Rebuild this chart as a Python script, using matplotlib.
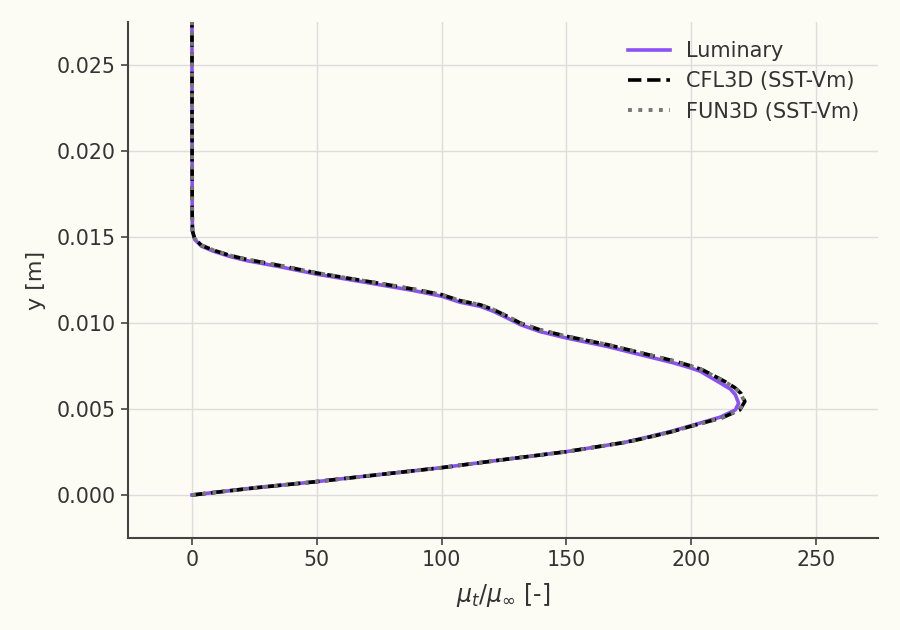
import numpy as np
import matplotlib
matplotlib.use("Agg")
from matplotlib import pyplot as plt

# Eddy viscosity ratio profile.
# y [m] and mu_t/mu_inf for each solver.
y_lum = [0.0, 0.00043, 0.00078, 0.00117, 0.00159, 0.00208, 0.00252, 0.00305,
         0.00328, 0.00369, 0.00402, 0.00453, 0.00495, 0.00534, 0.00583, 0.00616,
         0.00651, 0.00719, 0.00738, 0.00768, 0.00816, 0.00864, 0.00913, 0.00950,
         0.00991, 0.01030, 0.01068, 0.01097, 0.01121, 0.01156, 0.01189, 0.01222,
         0.01255, 0.01284, 0.01327, 0.01363, 0.01387, 0.01418, 0.01447, 0.01486,
         0.01534, 0.01632, 0.0200, 0.0280]
mu_lum = [0.0, 26.0, 50.0, 74.0, 100.0, 126.0, 150.0, 173.0,
          180.0, 191.7, 199.7, 211.7, 217.7, 219.0, 217.7, 215.7,
          211.7, 203.7, 200.0, 193.0, 179.6, 166.3, 150.0, 139.5,
          131.5, 126.2, 120.8, 115.5, 107.4, 100.0, 88.7, 75.4,
          62.0, 50.0, 35.3, 21.9, 15.2, 8.5, 3.8, 1.1,
          0.2, 0.1, 0.05, 0.0]

y_cfl = [0.0, 0.00043, 0.00078, 0.00117, 0.00159, 0.00208, 0.00252, 0.00305,
         0.00326, 0.00366, 0.00399, 0.00450, 0.00495, 0.00544, 0.00590, 0.00624,
         0.00660, 0.00728, 0.00748, 0.00778, 0.00826, 0.00874, 0.00923, 0.00960,
         0.01000, 0.01040, 0.01078, 0.01106, 0.01130, 0.01165, 0.01197, 0.01230,
         0.01262, 0.01291, 0.01334, 0.01370, 0.01393, 0.01424, 0.01452, 0.01490,
         0.01536, 0.01632, 0.0200, 0.0280]
mu_cfl = [0.0, 26.0, 50.0, 74.0, 100.0, 126.0, 150.0, 173.0,
          180.0, 191.7, 199.7, 212.5, 219.5, 221.5, 220.0, 217.5,
          213.5, 204.5, 200.5, 193.5, 180.0, 166.5, 150.0, 139.5,
          131.5, 126.2, 120.8, 115.5, 107.4, 100.0, 88.7, 75.4,
          62.0, 50.0, 35.3, 21.9, 15.2, 8.5, 3.8, 1.1,
          0.2, 0.1, 0.05, 0.0]

y_fun = y_cfl
mu_fun = [0.0, 26.0, 50.0, 74.0, 100.0, 126.0, 150.0, 173.0,
          180.0, 191.7, 199.7, 212.3, 219.3, 221.3, 219.8, 217.3,
          213.3, 204.3, 200.3, 193.3, 180.0, 166.5, 150.0, 139.5,
          131.5, 126.2, 120.8, 115.5, 107.4, 100.0, 88.7, 75.4,
          62.0, 50.0, 35.3, 21.9, 15.2, 8.5, 3.8, 1.1,
          0.2, 0.1, 0.05, 0.0]

bg = '#fcfbf4'
txt = '#333333'

plt.rcParams['font.family'] = ['DejaVu Sans']
fig = plt.figure(figsize=(9, 6.3), dpi=100, facecolor=bg)
ax = fig.add_axes([0.142, 0.146, 0.834, 0.819], facecolor=bg)

ax.plot(mu_lum, y_lum, color='#8b50f7', lw=2.6, label='Luminary')
ax.plot(mu_cfl, y_cfl, '--', color='black', lw=2.6, label='CFL3D (SST-Vm)')
ax.plot(mu_fun, y_fun, ':', color='#777777', lw=2.8, label='FUN3D (SST-Vm)')

ax.set_xlim(-25.7, 275)
ax.set_ylim(-0.0025, 0.0275)
ax.set_xticks([0, 50, 100, 150, 200, 250])
ax.set_yticks([0.0, 0.005, 0.010, 0.015, 0.020, 0.025])
ax.set_yticklabels(['0.000', '0.005', '0.010', '0.015', '0.020', '0.025'])

ax.grid(True, color='#dddddd', lw=1.0)
ax.set_axisbelow(True)
for s in ['top', 'right']:
	ax.spines[s].set_visible(False)
for s in ['left', 'bottom']:
	ax.spines[s].set_color('#444444')
	ax.spines[s].set_linewidth(1.5)
ax.tick_params(colors='#444444', labelcolor=txt, labelsize=14.8, length=5, width=1.2)

ax.set_xlabel(r'$\mu_t/\mu_\infty$ [-]', fontsize=17, color=txt, labelpad=8)
ax.set_ylabel('y [m]', fontsize=16, color=txt, labelpad=8)

leg = ax.legend(loc='upper right', frameon=False, fontsize=15)
for t in leg.get_texts():
	t.set_color(txt)

fig.savefig('out.png', dpi=100, facecolor=bg)
